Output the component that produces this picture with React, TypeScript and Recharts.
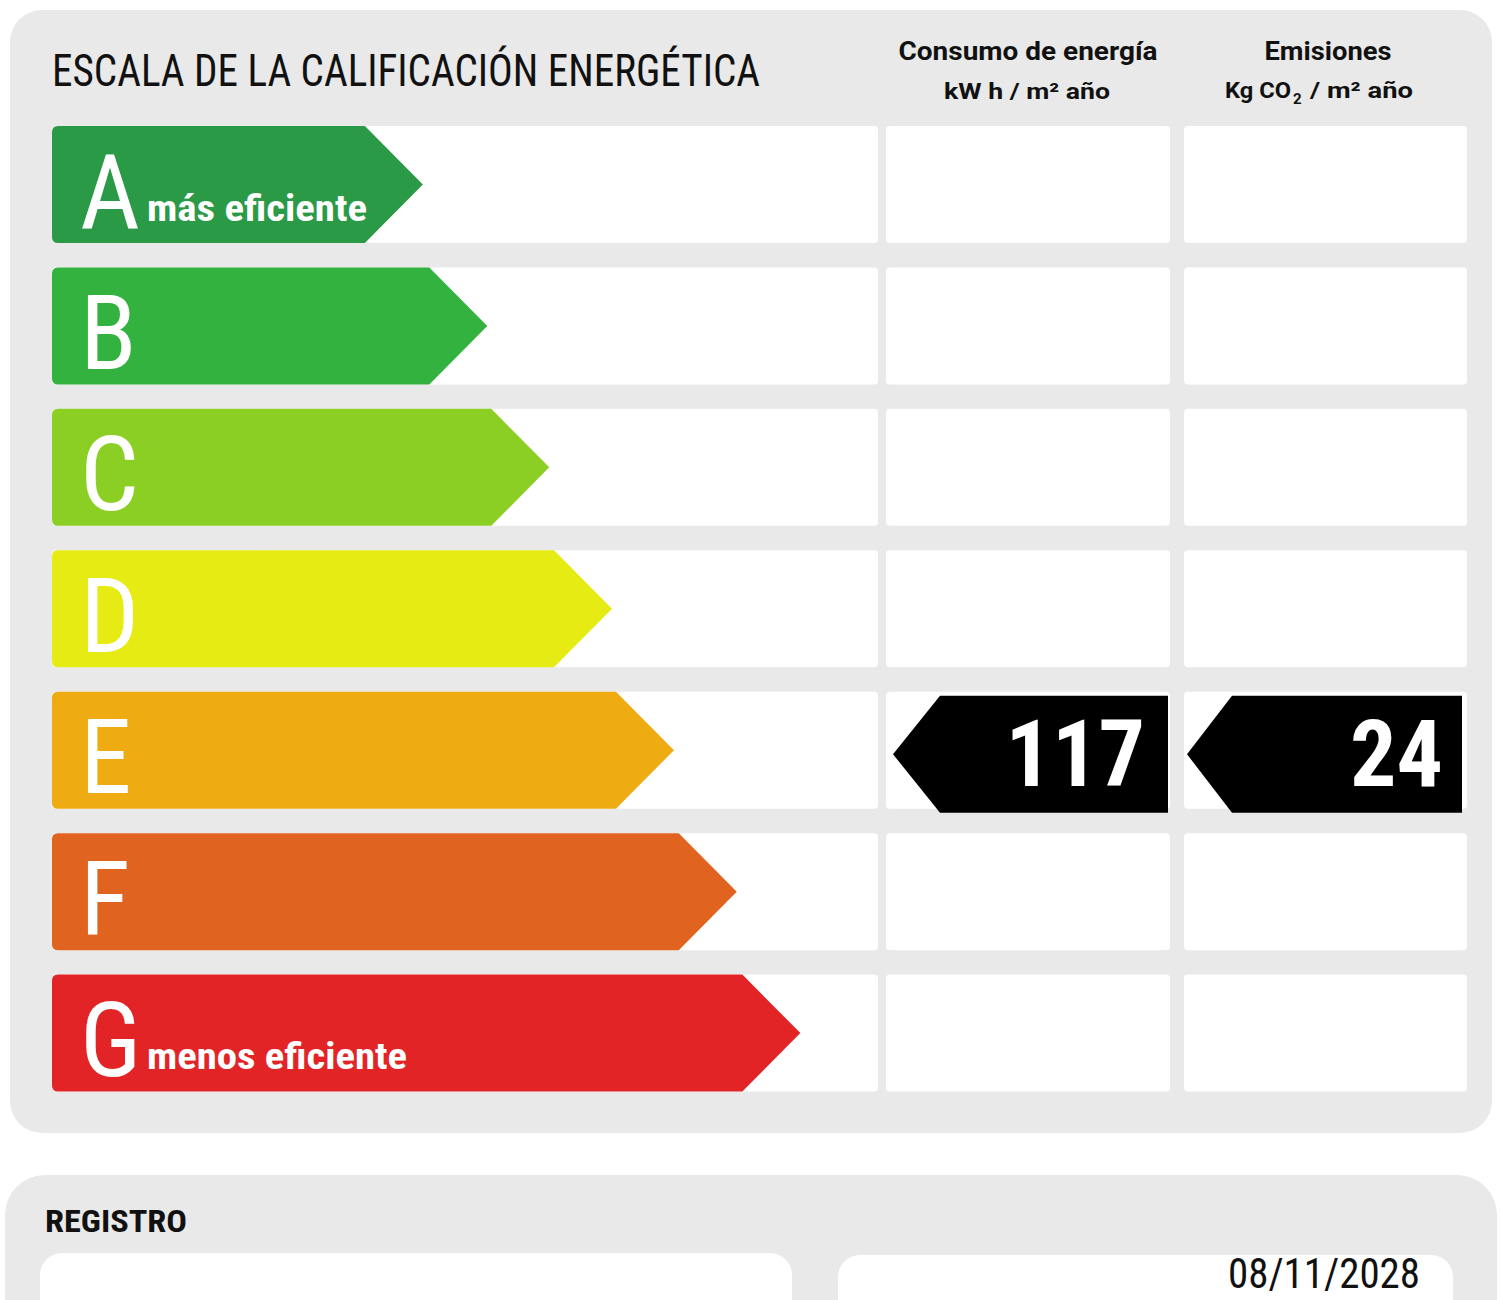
import React from 'react';
import { BarChart, Bar, XAxis, YAxis } from 'recharts';

const ratings = ['A', 'B', 'C', 'D', 'E', 'F', 'G'];
// arrow length as % of the scale row width
const arrowLengths = [44.9, 52.7, 60.2, 67.8, 75.3, 82.9, 90.6];
const ratingColors = ['#2a9a47', '#33b23f', '#8ccf24', '#e5eb13', '#eeab12', '#e0641f', '#e32426'];
const ratingCaptions = ['más eficiente', '', '', '', '', '', 'menos eficiente'];
const captionWidths = [220, 0, 0, 0, 0, 0, 260];
const consumoValues: (number | null)[] = [null, null, null, null, 117, null, null];
const emisionesValues: (number | null)[] = [null, null, null, null, 24, null, null];

const title = 'ESCALA DE LA CALIFICACIÓN ENERGÉTICA';
const registroLabel = 'REGISTRO';
const registroDate = '08/11/2028';

const data = ratings.map((r, i) => ({
  rating: r,
  length: arrowLengths[i],
  color: ratingColors[i],
  caption: ratingCaptions[i],
  captionWidth: captionWidths[i],
  consumo: consumoValues[i],
  emisiones: emisionesValues[i],
}));

const NARROW = '"Liberation Sans Narrow", "Arial Narrow", "Roboto Condensed", sans-serif';
const BOLDHEAD = 'Roboto, "Liberation Sans", sans-serif';
const GRAY = '#e8e9e8';

const RowShape = (props: any) => {
  const { x, y, width, height, payload, background } = props;
  const rowW = background && background.width ? background.width : 826;
  const depth = 58;
  const x0 = x;
  const x1 = x + width - depth;
  const tip = x + width;
  const y0 = y;
  const y1 = y + height;
  const cy = y + height / 2;
  const r = 6;
  const arrow = `M${x0 + r},${y0} L${x1},${y0} L${tip},${cy} L${x1},${y1} L${x0 + r},${y1} Q${x0},${y1} ${x0},${y1 - r} L${x0},${y0 + r} Q${x0},${y0} ${x0 + r},${y0} Z`;
  const midX = x + rowW + 8;
  const midW = 284;
  const rightX = midX + midW + 14;
  const rightW = 283;
  const blackArrow = (xl: number, xr: number, d: number) => {
    const by0 = y0 + 4;
    const by1 = y1 + 4;
    const bcy = (by0 + by1) / 2;
    return `M${xr},${by0} L${xl + d},${by0} L${xl},${bcy} L${xl + d},${by1} L${xr},${by1} Z`;
  };
  return (
    <g>
      <rect x={x0} y={y0} width={rowW} height={height} rx={4} fill="#ffffff" />
      <rect x={midX} y={y0} width={midW} height={height} rx={4} fill="#ffffff" />
      <rect x={rightX} y={y0} width={rightW} height={height} rx={4} fill="#ffffff" />
      <path d={arrow} fill={payload.color} />
      <text x={x0 + 28} y={cy + 43} fill="#ffffff" fontFamily={NARROW} fontSize={104}>
        {payload.rating}
      </text>
      {payload.caption ? (
        <text
          x={x0 + 95}
          y={cy + 36}
          fill="#ffffff"
          fontFamily={NARROW}
          fontWeight="bold"
          fontSize={36}
          textLength={payload.captionWidth}
          lengthAdjust="spacingAndGlyphs"
        >
          {payload.caption}
        </text>
      ) : null}
      {payload.consumo != null ? (
        <g>
          <path d={blackArrow(midX + 7, midX + midW - 2, 47)} fill="#000000" />
          <text
            x={midX + midW - 25}
            y={y0 + 4 + height / 2 + 32}
            textAnchor="end"
            fill="#ffffff"
            fontFamily={NARROW}
            fontWeight="bold"
            fontSize={92}
          >
            {payload.consumo}
          </text>
        </g>
      ) : null}
      {payload.emisiones != null ? (
        <g>
          <path d={blackArrow(rightX + 3, rightX + rightW - 5, 45)} fill="#000000" />
          <text
            x={rightX + rightW - 24}
            y={y0 + 4 + height / 2 + 32}
            textAnchor="end"
            fill="#ffffff"
            fontFamily={NARROW}
            fontWeight="bold"
            fontSize={92}
          >
            {payload.emisiones}
          </text>
        </g>
      ) : null}
    </g>
  );
};

export default function App() {
  return (
    <div style={{ position: 'absolute', left: 0, top: 0, width: 1500, height: 1300, background: '#ffffff', overflow: 'hidden' }}>
      <svg width={1500} height={1300} style={{ position: 'absolute', left: 0, top: 0 }}>
        <rect x={10} y={10} width={1482} height={1123} rx={32} fill={GRAY} />
        <rect x={5} y={1175} width={1492} height={220} rx={40} fill={GRAY} />
        <rect x={40} y={1253} width={752} height={100} rx={22} fill="#ffffff" />
        <rect x={838} y={1255} width={615} height={100} rx={22} fill="#ffffff" />
        <text x={52} y={86} fontFamily={NARROW} fontSize={44} fill="#111" textLength={708} lengthAdjust="spacingAndGlyphs">
          {title}
        </text>
        <text x={1028} y={60} textAnchor="middle" fontFamily={BOLDHEAD} fontWeight="bold" fontSize={25} fill="#111" textLength={259} lengthAdjust="spacingAndGlyphs">
          Consumo de energía
        </text>
        <text x={1027} y={99} textAnchor="middle" fontFamily={BOLDHEAD} fontWeight="bold" fontSize={22} fill="#111" textLength={166} lengthAdjust="spacingAndGlyphs">
          kW h / m² año
        </text>
        <text x={1328} y={60} textAnchor="middle" fontFamily={BOLDHEAD} fontWeight="bold" fontSize={25} fill="#111" textLength={127} lengthAdjust="spacingAndGlyphs">
          Emisiones
        </text>
        <text x={1225} y={98} fontFamily={BOLDHEAD} fontWeight="bold" fontSize={22} fill="#111" textLength={66} lengthAdjust="spacingAndGlyphs">
          Kg CO
        </text>
        <text x={1293} y={104} fontFamily={BOLDHEAD} fontWeight="bold" fontSize={15} fill="#111">
          2
        </text>
        <text x={1310} y={98} fontFamily={BOLDHEAD} fontWeight="bold" fontSize={22} fill="#111" textLength={103} lengthAdjust="spacingAndGlyphs">
          / m² año
        </text>
        <text x={45} y={1232} fontFamily={NARROW} fontWeight="bold" fontSize={32} fill="#111" textLength={142} lengthAdjust="spacingAndGlyphs">
          {registroLabel}
        </text>
        <text x={1420} y={1288} textAnchor="end" fontFamily={NARROW} fontSize={42} fill="#111" textLength={192} lengthAdjust="spacingAndGlyphs">
          {registroDate}
        </text>
      </svg>
      <div style={{ position: 'absolute', left: 0, top: 0 }}>
        <BarChart
          layout="vertical"
          width={1500}
          height={1300}
          data={data}
          margin={{ top: 114, right: 622, bottom: 196, left: 52 }}
        >
          <XAxis type="number" domain={[0, 100]} hide />
          <YAxis type="category" dataKey="rating" hide />
          <Bar dataKey="length" barSize={117} shape={<RowShape />} isAnimationActive={false} />
        </BarChart>
      </div>
    </div>
  );
}
